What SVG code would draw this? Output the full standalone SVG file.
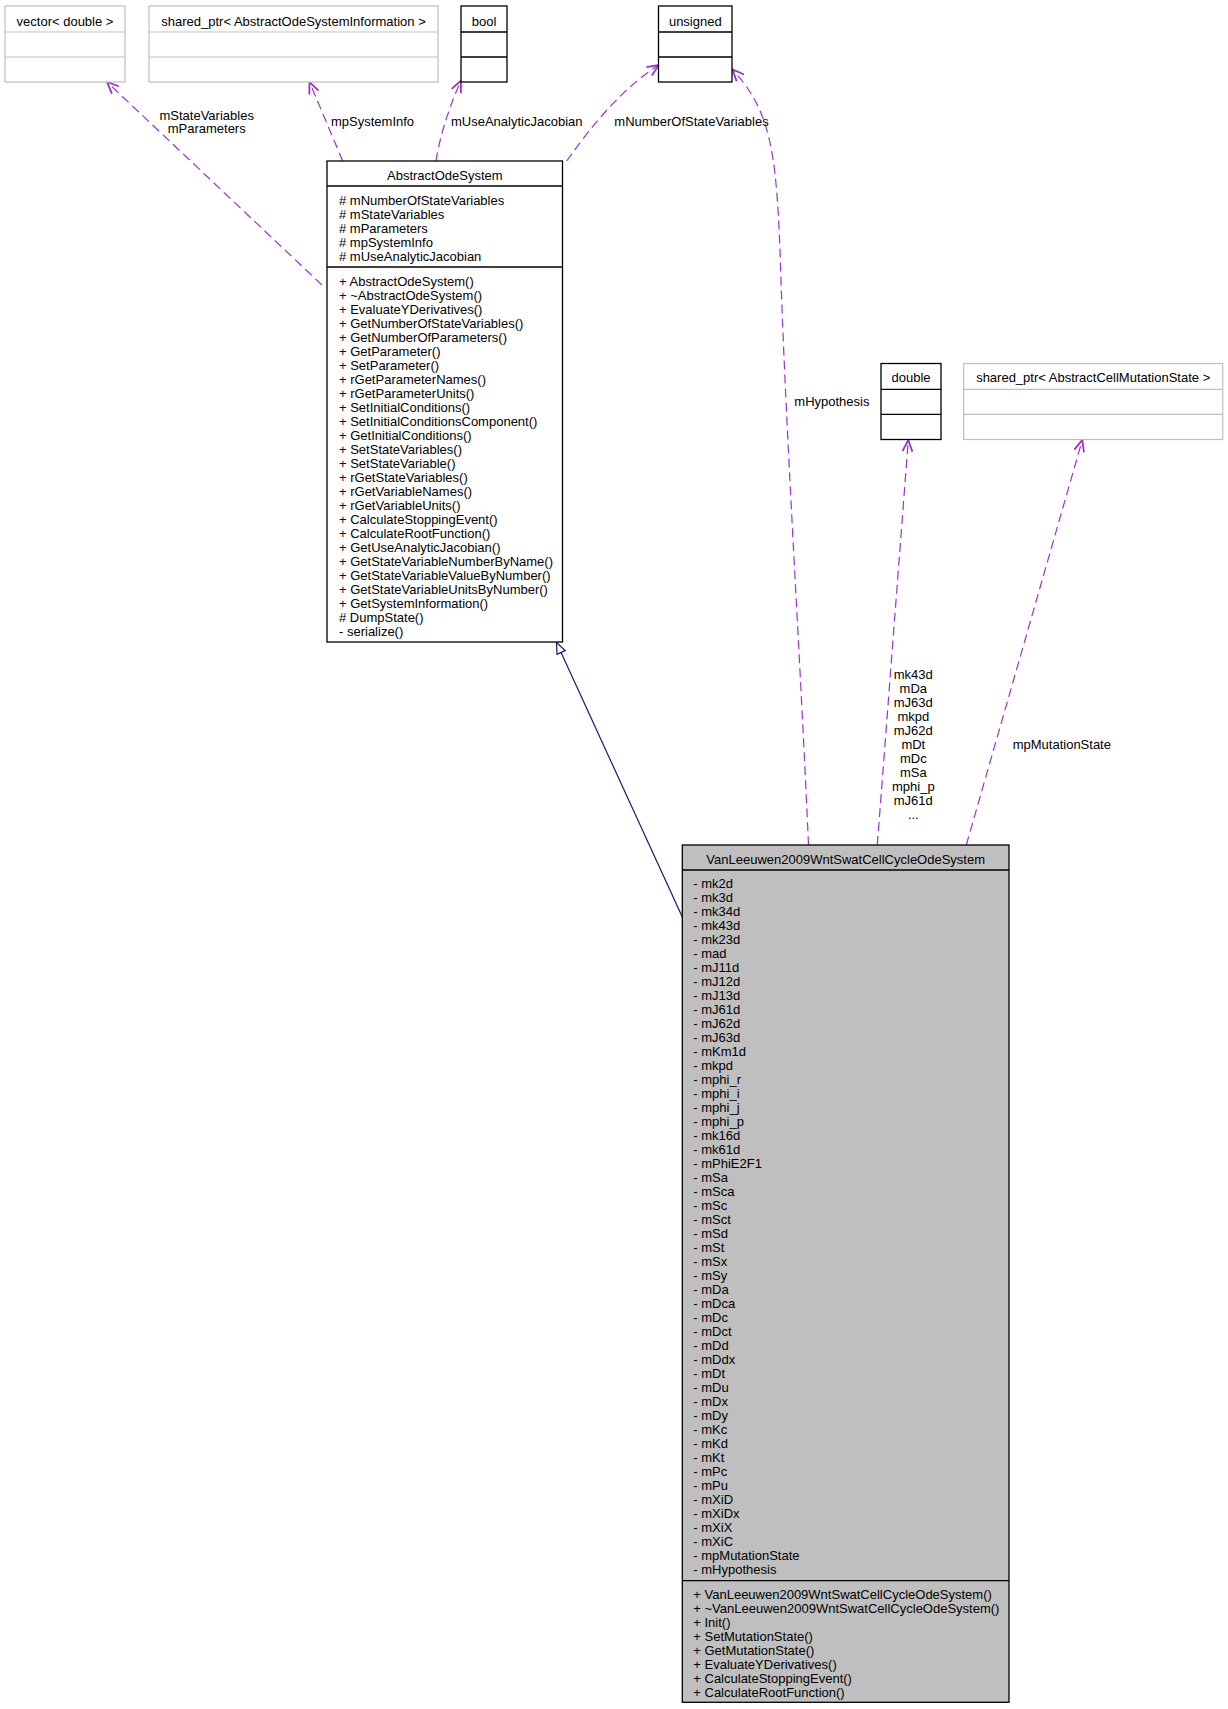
<svg xmlns="http://www.w3.org/2000/svg" width="1228" height="1709" viewBox="0 0 1228 1709">
<style>
text{font-family:"Liberation Sans",Arial,sans-serif;font-size:13px;fill:#000}
.c{text-anchor:middle}
.gb{fill:#fff;stroke:#bfbfbf;stroke-width:1.2}
.bb{fill:#fff;stroke:#000;stroke-width:1.3}
.main{fill:#bfbfbf;stroke:#000;stroke-width:1.3}
.gl{stroke:#bfbfbf;stroke-width:1.2}
.bl{stroke:#000;stroke-width:1.3}
.use{fill:none;stroke:#9a32cd;stroke-width:1.2;stroke-dasharray:9,5;marker-end:url(#vee)}
.inh{fill:none;stroke:#191970;stroke-width:1.2;marker-end:url(#tri)}
</style>
<defs>
<marker id="vee" markerUnits="userSpaceOnUse" viewBox="0 0 14 12" markerWidth="14" markerHeight="12" refX="12.5" refY="6" orient="auto">
<path d="M1,1 L12.5,6 L1,11" fill="none" stroke="#9a32cd" stroke-width="1.8"/>
</marker>
<marker id="tri" markerUnits="userSpaceOnUse" viewBox="0 0 13 11" markerWidth="13" markerHeight="11" refX="12" refY="5.5" orient="auto">
<path d="M1,1 L12,5.5 L1,10 Z" fill="#fff" stroke="#191970" stroke-width="1.2"/>
</marker>
</defs>
<rect width="1228" height="1709" fill="#fff"/>

<g id="connectors">
<path class="inh" d="M682.3,917 L556.5,642.5"/>
<path class="use" d="M322,285 L107,82"/>
<path class="use" d="M342.7,161 L309.5,82"/>
<path class="use" d="M436,161 C440,135 450,105 461,80.5"/>
<path class="use" d="M566.7,161 C590,128 620,90 658.8,65"/>
<path class="use" d="M808.5,845 C800,650 785,420 780,250 C776,150 770,110 732.5,69.5"/>
<path class="use" d="M877.3,845 L908.3,440"/>
<path class="use" d="M966.3,845 L1082.3,440"/>
<text class="c" x="206.7" y="119.5">mStateVariables</text>
<text class="c" x="206.7" y="133">mParameters</text>
<text x="331" y="126">mpSystemInfo</text>
<text x="451" y="126">mUseAnalyticJacobian</text>
<text x="614.3" y="126">mNumberOfStateVariables</text>
<text x="794.3" y="406">mHypothesis</text>
<text x="1012.7" y="749">mpMutationState</text>
<g class="c">
<text x="913.3" y="679">mk43d</text>
<text x="913.3" y="693">mDa</text>
<text x="913.3" y="707">mJ63d</text>
<text x="913.3" y="721">mkpd</text>
<text x="913.3" y="735">mJ62d</text>
<text x="913.3" y="749">mDt</text>
<text x="913.3" y="763">mDc</text>
<text x="913.3" y="777">mSa</text>
<text x="913.3" y="791">mphi_p</text>
<text x="913.3" y="805">mJ61d</text>
<text x="913.3" y="819">...</text>
</g>
</g>

<g id="vector_double">
<rect class="gb" x="5" y="6" width="120" height="76"/>
<line class="gl" x1="5" y1="32" x2="125" y2="32"/>
<line class="gl" x1="5" y1="57" x2="125" y2="57"/>
<text class="c" x="65" y="25.5">vector&lt; double &gt;</text>
</g>

<g id="shared_ptr_AbstractOdeSystemInformation">
<rect class="gb" x="149" y="6" width="289" height="76"/>
<line class="gl" x1="149" y1="32" x2="438" y2="32"/>
<line class="gl" x1="149" y1="57" x2="438" y2="57"/>
<text class="c" x="293.5" y="25.5">shared_ptr&lt; AbstractOdeSystemInformation &gt;</text>
</g>

<g id="bool">
<rect class="bb" x="461" y="6" width="46" height="76"/>
<line class="bl" x1="461" y1="32" x2="507" y2="32"/>
<line class="bl" x1="461" y1="57" x2="507" y2="57"/>
<text class="c" x="484" y="25.5">bool</text>
</g>

<g id="unsigned">
<rect class="bb" x="658.5" y="6" width="73.5" height="76"/>
<line class="bl" x1="658.5" y1="32" x2="732" y2="32"/>
<line class="bl" x1="658.5" y1="57" x2="732" y2="57"/>
<text class="c" x="695.3" y="25.5">unsigned</text>
</g>

<g id="double">
<rect class="bb" x="881" y="363.5" width="60" height="76"/>
<line class="bl" x1="881" y1="389.3" x2="941" y2="389.3"/>
<line class="bl" x1="881" y1="414.3" x2="941" y2="414.3"/>
<text class="c" x="911" y="382">double</text>
</g>

<g id="shared_ptr_AbstractCellMutationState">
<rect class="gb" x="963.7" y="363.5" width="259" height="76"/>
<line class="gl" x1="963.7" y1="389.3" x2="1222.7" y2="389.3"/>
<line class="gl" x1="963.7" y1="414.3" x2="1222.7" y2="414.3"/>
<text class="c" x="1093.2" y="382">shared_ptr&lt; AbstractCellMutationState &gt;</text>
</g>

<g id="AbstractOdeSystem">
<rect class="bb" x="327" y="161" width="235.5" height="481"/>
<line class="bl" x1="327" y1="186" x2="562.5" y2="186"/>
<line class="bl" x1="327" y1="267" x2="562.5" y2="267"/>
<text class="c" x="444.8" y="179.5">AbstractOdeSystem</text>
<text x="339" y="205"># mNumberOfStateVariables</text>
<text x="339" y="219"># mStateVariables</text>
<text x="339" y="233"># mParameters</text>
<text x="339" y="247"># mpSystemInfo</text>
<text x="339" y="261"># mUseAnalyticJacobian</text>
<text x="339" y="286.3">+ AbstractOdeSystem()</text>
<text x="339" y="300.3">+ ~AbstractOdeSystem()</text>
<text x="339" y="314.3">+ EvaluateYDerivatives()</text>
<text x="339" y="328.3">+ GetNumberOfStateVariables()</text>
<text x="339" y="342.3">+ GetNumberOfParameters()</text>
<text x="339" y="356.3">+ GetParameter()</text>
<text x="339" y="370.3">+ SetParameter()</text>
<text x="339" y="384.3">+ rGetParameterNames()</text>
<text x="339" y="398.3">+ rGetParameterUnits()</text>
<text x="339" y="412.3">+ SetInitialConditions()</text>
<text x="339" y="426.3">+ SetInitialConditionsComponent()</text>
<text x="339" y="440.3">+ GetInitialConditions()</text>
<text x="339" y="454.3">+ SetStateVariables()</text>
<text x="339" y="468.3">+ SetStateVariable()</text>
<text x="339" y="482.3">+ rGetStateVariables()</text>
<text x="339" y="496.3">+ rGetVariableNames()</text>
<text x="339" y="510.3">+ rGetVariableUnits()</text>
<text x="339" y="524.3">+ CalculateStoppingEvent()</text>
<text x="339" y="538.3">+ CalculateRootFunction()</text>
<text x="339" y="552.3">+ GetUseAnalyticJacobian()</text>
<text x="339" y="566.3">+ GetStateVariableNumberByName()</text>
<text x="339" y="580.3">+ GetStateVariableValueByNumber()</text>
<text x="339" y="594.3">+ GetStateVariableUnitsByNumber()</text>
<text x="339" y="608.3">+ GetSystemInformation()</text>
<text x="339" y="622.3"># DumpState()</text>
<text x="339" y="636.3">- serialize()</text>
</g>

<g id="VanLeeuwen2009WntSwatCellCycleOdeSystem">
<rect class="main" x="682.3" y="845" width="326.7" height="857.3"/>
<line class="bl" x1="682.3" y1="870" x2="1009" y2="870"/>
<line class="bl" x1="682.3" y1="1580.7" x2="1009" y2="1580.7"/>
<text class="c" x="845.7" y="863.5">VanLeeuwen2009WntSwatCellCycleOdeSystem</text>
<text x="693.3" y="888">- mk2d</text>
<text x="693.3" y="902">- mk3d</text>
<text x="693.3" y="916">- mk34d</text>
<text x="693.3" y="930">- mk43d</text>
<text x="693.3" y="944">- mk23d</text>
<text x="693.3" y="958">- mad</text>
<text x="693.3" y="972">- mJ11d</text>
<text x="693.3" y="986">- mJ12d</text>
<text x="693.3" y="1000">- mJ13d</text>
<text x="693.3" y="1014">- mJ61d</text>
<text x="693.3" y="1028">- mJ62d</text>
<text x="693.3" y="1042">- mJ63d</text>
<text x="693.3" y="1056">- mKm1d</text>
<text x="693.3" y="1070">- mkpd</text>
<text x="693.3" y="1084">- mphi_r</text>
<text x="693.3" y="1098">- mphi_i</text>
<text x="693.3" y="1112">- mphi_j</text>
<text x="693.3" y="1126">- mphi_p</text>
<text x="693.3" y="1140">- mk16d</text>
<text x="693.3" y="1154">- mk61d</text>
<text x="693.3" y="1168">- mPhiE2F1</text>
<text x="693.3" y="1182">- mSa</text>
<text x="693.3" y="1196">- mSca</text>
<text x="693.3" y="1210">- mSc</text>
<text x="693.3" y="1224">- mSct</text>
<text x="693.3" y="1238">- mSd</text>
<text x="693.3" y="1252">- mSt</text>
<text x="693.3" y="1266">- mSx</text>
<text x="693.3" y="1280">- mSy</text>
<text x="693.3" y="1294">- mDa</text>
<text x="693.3" y="1308">- mDca</text>
<text x="693.3" y="1322">- mDc</text>
<text x="693.3" y="1336">- mDct</text>
<text x="693.3" y="1350">- mDd</text>
<text x="693.3" y="1364">- mDdx</text>
<text x="693.3" y="1378">- mDt</text>
<text x="693.3" y="1392">- mDu</text>
<text x="693.3" y="1406">- mDx</text>
<text x="693.3" y="1420">- mDy</text>
<text x="693.3" y="1434">- mKc</text>
<text x="693.3" y="1448">- mKd</text>
<text x="693.3" y="1462">- mKt</text>
<text x="693.3" y="1476">- mPc</text>
<text x="693.3" y="1490">- mPu</text>
<text x="693.3" y="1504">- mXiD</text>
<text x="693.3" y="1518">- mXiDx</text>
<text x="693.3" y="1532">- mXiX</text>
<text x="693.3" y="1546">- mXiC</text>
<text x="693.3" y="1560">- mpMutationState</text>
<text x="693.3" y="1574">- mHypothesis</text>
<text x="693.3" y="1598.6">+ VanLeeuwen2009WntSwatCellCycleOdeSystem()</text>
<text x="693.3" y="1612.6">+ ~VanLeeuwen2009WntSwatCellCycleOdeSystem()</text>
<text x="693.3" y="1626.6">+ Init()</text>
<text x="693.3" y="1640.6">+ SetMutationState()</text>
<text x="693.3" y="1654.6">+ GetMutationState()</text>
<text x="693.3" y="1668.6">+ EvaluateYDerivatives()</text>
<text x="693.3" y="1682.6">+ CalculateStoppingEvent()</text>
<text x="693.3" y="1696.6">+ CalculateRootFunction()</text>
</g>
</svg>
